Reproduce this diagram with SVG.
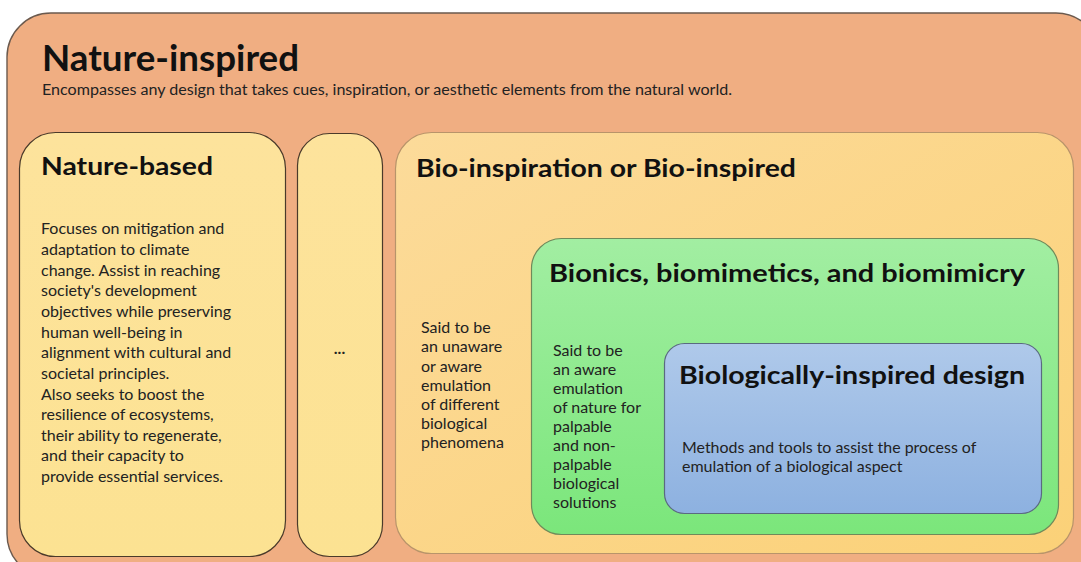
<svg xmlns="http://www.w3.org/2000/svg" width="1081" height="562" viewBox="0 0 1081 562">
  <defs>
    <linearGradient id="gYellow" x1="0" y1="0" x2="0" y2="1">
      <stop offset="0" stop-color="#FDE39C"/>
      <stop offset="1" stop-color="#FCE292"/>
    </linearGradient>
    <linearGradient id="gBio" x1="0" y1="0" x2="1" y2="1">
      <stop offset="0" stop-color="#FCDB9A"/>
      <stop offset="1" stop-color="#FBD178"/>
    </linearGradient>
    <linearGradient id="gGreen" x1="0" y1="0" x2="0" y2="1">
      <stop offset="0" stop-color="#A2EEA2"/>
      <stop offset="1" stop-color="#7BE67B"/>
    </linearGradient>
    <linearGradient id="gBlue" x1="0" y1="0" x2="0" y2="1">
      <stop offset="0" stop-color="#AFC9EA"/>
      <stop offset="1" stop-color="#8DB1E0"/>
    </linearGradient>
  </defs>
  <style>
    text { font-family: Lato, "Open Sans", "Liberation Sans", sans-serif; fill: #222; }
    .h1 { font-size: 36px; font-weight: bold; fill: #111; }
    .h2 { font-size: 25px; font-weight: bold; fill: #111; }
    .sub { font-size: 15.5px; }
    .body { font-size: 16px; }
    .box { stroke-width: 1.2; }
  </style>

  <rect width="1081" height="562" fill="#ffffff"/>

  <!-- Outer container -->
  <g id="nature-inspired">
    <rect x="7" y="13" width="1093" height="565" rx="44" fill="#F0AE82" stroke="#6b5a4e" stroke-width="1.4"/>
    <text class="h1" x="42" y="71" textLength="257" lengthAdjust="spacingAndGlyphs">Nature-inspired</text>
    <text class="sub" x="42" y="95" textLength="690" lengthAdjust="spacingAndGlyphs">Encompasses any design that takes cues, inspiration, or aesthetic elements from the natural world.</text>
  </g>

  <!-- Nature-based column -->
  <g id="nature-based">
    <rect class="box" x="19.5" y="132.5" width="266" height="424" rx="36" fill="url(#gYellow)" stroke="#4a3a2a"/>
    <text class="h2" x="41" y="175" textLength="172" lengthAdjust="spacingAndGlyphs">Nature-based</text>
    <text class="body">
      <tspan x="41" y="234">Focuses on mitigation and</tspan>
      <tspan x="41" y="255">adaptation to climate</tspan>
      <tspan x="41" y="276">change. Assist in reaching</tspan>
      <tspan x="41" y="296">society's development</tspan>
      <tspan x="41" y="317">objectives while preserving</tspan>
      <tspan x="41" y="338">human well-being in</tspan>
      <tspan x="41" y="358">alignment with cultural and</tspan>
      <tspan x="41" y="379">societal principles.</tspan>
      <tspan x="41" y="400">Also seeks to boost the</tspan>
      <tspan x="41" y="420">resilience of ecosystems,</tspan>
      <tspan x="41" y="441">their ability to regenerate,</tspan>
      <tspan x="41" y="461">and their capacity to</tspan>
      <tspan x="41" y="482">provide essential services.</tspan>
    </text>
  </g>

  <!-- Ellipsis column -->
  <g id="other">
    <rect class="box" x="297.5" y="133.5" width="85" height="423" rx="32" fill="url(#gYellow)" stroke="#4a3a2a"/>
    <text class="body" x="339.5" y="354" text-anchor="middle" font-weight="bold">...</text>
  </g>

  <!-- Bio-inspiration -->
  <g id="bio-inspired">
    <rect class="box" x="395.5" y="132.5" width="678" height="421" rx="36" fill="url(#gBio)" stroke="#b8946a"/>
    <text class="h2" x="416" y="177" textLength="380" lengthAdjust="spacingAndGlyphs">Bio-inspiration or Bio-inspired</text>
    <text class="body">
      <tspan x="421" y="333">Said to be</tspan>
      <tspan x="421" y="352">an unaware</tspan>
      <tspan x="421" y="372">or aware</tspan>
      <tspan x="421" y="391">emulation</tspan>
      <tspan x="421" y="410">of different</tspan>
      <tspan x="421" y="429">biological</tspan>
      <tspan x="421" y="448">phenomena</tspan>
    </text>
  </g>

  <!-- Bionics / biomimetics / biomimicry -->
  <g id="bionics">
    <rect class="box" x="531.5" y="238.5" width="527" height="296" rx="30" fill="url(#gGreen)" stroke="#6f8a5a"/>
    <text class="h2" x="549" y="282" textLength="476" lengthAdjust="spacingAndGlyphs">Bionics, biomimetics, and biomimicry</text>
    <text class="body">
      <tspan x="553" y="356">Said to be</tspan>
      <tspan x="553" y="375">an aware</tspan>
      <tspan x="553" y="394">emulation</tspan>
      <tspan x="553" y="413">of nature for</tspan>
      <tspan x="553" y="432">palpable</tspan>
      <tspan x="553" y="451">and non-</tspan>
      <tspan x="553" y="470">palpable</tspan>
      <tspan x="553" y="489">biological</tspan>
      <tspan x="553" y="508">solutions</tspan>
    </text>
  </g>

  <!-- Biologically-inspired design -->
  <g id="bid">
    <rect class="box" x="664.5" y="343.5" width="377" height="170" rx="20" fill="url(#gBlue)" stroke="#5a6a80"/>
    <text class="h2" x="679" y="384" textLength="346" lengthAdjust="spacingAndGlyphs">Biologically-inspired design</text>
    <text class="body">
      <tspan x="682" y="453" textLength="294" lengthAdjust="spacingAndGlyphs">Methods and tools to assist the process of</tspan>
      <tspan x="682" y="472">emulation of a biological aspect</tspan>
    </text>
  </g>

  <g id="connectors"/>
</svg>
